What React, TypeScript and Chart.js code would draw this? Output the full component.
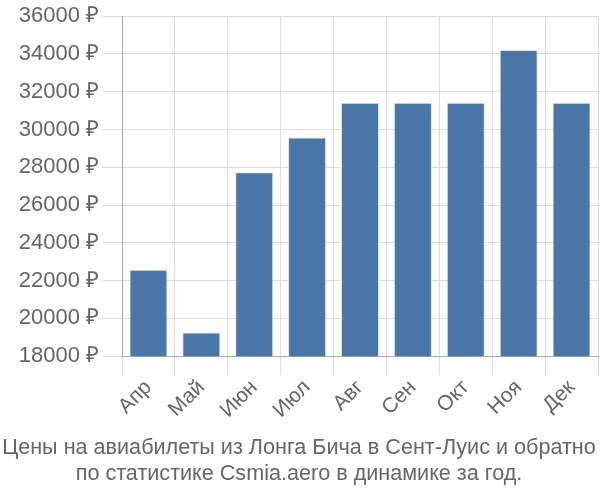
import React, { useEffect, useRef } from "react";
import { Chart, registerables } from "chart.js";

Chart.register(...registerables);

const categories = ["Апр", "Май", "Июн", "Июл", "Авг", "Сен", "Окт", "Ноя", "Дек"];
const prices = [22580, 19250, 27740, 29580, 31420, 31420, 31420, 34210, 31420];
const titleLines = [
  "Цены на авиабилеты из Лонга Бича в Сент-Луис и обратно",
  "по статистике Csmia.aero в динамике за год.",
];

const FONT = "'Liberation Sans', Arial, sans-serif";

export default function App() {
  const ref = useRef<HTMLCanvasElement | null>(null);
  useEffect(() => {
    if (!ref.current) return;
    const chart = new Chart(ref.current, {
      type: "bar",
      data: {
        labels: categories,
        datasets: [
          {
            data: prices,
            backgroundColor: "#4a76a8",
            borderColor: "#dce6f0",
            borderWidth: 1,
            barPercentage: 0.72,
            categoryPercentage: 1,
          },
        ],
      },
      options: {
        animation: false,
        responsive: false,
        maintainAspectRatio: false,
        layout: { padding: { left: 0, right: 2, top: 4, bottom: 0 } },
        plugins: {
          legend: { display: false },
          tooltip: { enabled: false },
          title: {
            display: true,
            position: "bottom",
            text: titleLines,
            color: "#666",
            font: { family: FONT, size: 21.6, weight: "normal" },
            padding: { top: 12, bottom: 13 },
            lineHeight: 1.24,
          },
        },
        scales: {
          x: {
            grid: { color: "#dddddd", tickLength: 19, offset: true },
            border: { color: "#aaaaaa" },
            ticks: {
              color: "#666",
              font: { family: FONT, size: 21 },
              maxRotation: 45,
              minRotation: 45,
              padding: 0,
            },
          },
          y: {
            min: 18000,
            max: 36000,
            afterFit: (scale: any) => {
              scale.width = 122;
            },
            grid: { color: "#dddddd", tickLength: 20 },
            border: { color: "#aaaaaa" },
            ticks: {
              stepSize: 2000,
              color: "#666",
              font: { family: FONT, size: 22 },
              padding: 3,
              callback: (v: any) => v + " ₽",
            },
          },
        },
      },
    });
    return () => chart.destroy();
  }, []);
  return (
    <div style={{ position: "fixed", left: 0, top: 0, width: 600, height: 500, background: "#fff" }}>
      <canvas ref={ref} width={600} height={500} style={{ width: 600, height: 500 }} />
    </div>
  );
}
